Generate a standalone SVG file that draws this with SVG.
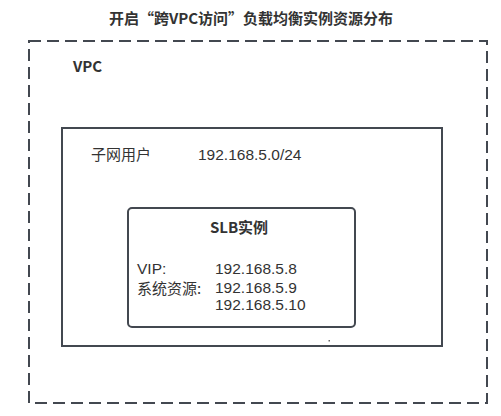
<svg xmlns="http://www.w3.org/2000/svg" width="501" height="416" viewBox="0 0 501 416">
<style>
text{font-family:"Noto Sans CJK SC","Noto Sans",sans-serif;fill:#333;font-size:15px}
.b{font-weight:bold}
.m{font-family:"Liberation Sans","Noto Sans CJK SC",sans-serif;font-size:15.5px}
.box{fill:none;stroke:#434850;stroke-width:2}
</style>
<rect width="501" height="416" fill="#fff"/>
<text class="b" x="251" y="24" text-anchor="middle">开启“跨VPC访问”负载均衡实例资源分布</text>
<g id="vpc">
<rect class="box" x="29" y="41" width="458" height="362" stroke-dasharray="12 6"/>
<text class="b" x="73" y="72" font-size="16">VPC</text>
</g>
<g id="subnet">
<rect class="box" x="62" y="128" width="380" height="218"/>
<text x="91" y="160">子网用户</text>
<text class="m" x="198" y="160">192.168.5.0/24</text>
<rect x="328.5" y="340" width="1.5" height="1.5" fill="#666"/>
</g>
<g id="slb">
<rect class="box" x="128" y="208" width="227" height="119" rx="4"/>
<text class="b" x="239" y="233" text-anchor="middle">SLB实例</text>
<text class="m" x="137" y="273.5">VIP:</text>
<text class="m" x="215" y="273.5">192.168.5.8</text>
<text x="137" y="294" font-size="14.5">系统资源:</text>
<text class="m" x="215" y="293">192.168.5.9</text>
<text class="m" x="215" y="310">192.168.5.10</text>
</g>
<g id="connectors"/>
</svg>
